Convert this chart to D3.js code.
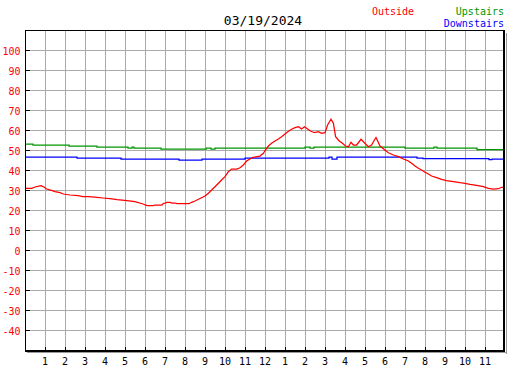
<!DOCTYPE html>
<html>
<head>
<meta charset="utf-8">
<script src="https://cdn.jsdelivr.net/npm/d3@7"></script>
<style>
    body { margin: 0; background: #fff; }
    svg { display: block; font-family: "DejaVu Sans Mono", monospace; }
</style>
</head>
<body>
<svg id="chart" width="527" height="370"></svg>
<script>
const chartDate = '03/19/2024';

const hourLabels = [1, 2, 3, 4, 5, 6, 7, 8, 9, 10, 11, 12, 1, 2, 3, 4, 5, 6, 7, 8, 9, 10, 11];
const tempTicks = [100, 90, 80, 70, 60, 50, 40, 30, 20, 10, 0, -10, -20, -30, -40];

const outsideHours = [0, 0.33, 0.5, 0.8, 0.95, 1.08, 1.33, 1.5, 1.75, 1.92, 2.25, 2.65, 2.9, 3.2, 3.6, 3.9,
    4.25, 4.6, 5.1, 5.5, 5.9, 6.1, 6.4, 6.5, 6.85, 6.9, 7.1, 7.25, 7.35, 7.5, 7.6, 8.2, 8.33, 8.5, 8.67,
    8.83, 9.0, 9.17, 9.33, 9.5, 9.67, 9.83, 10.0, 10.17, 10.33, 10.6, 10.75, 10.92, 11.08, 11.25, 11.4,
    11.75, 11.92, 12.0, 12.17, 12.33, 12.5, 12.67, 12.83, 13.0, 13.17, 13.33, 13.5, 13.67, 13.83, 13.97,
    14.08, 14.25, 14.47, 14.67, 14.83, 15.0, 15.13, 15.3, 15.42, 15.53, 15.7, 15.87, 16.03, 16.17, 16.3,
    16.42, 16.58, 16.8, 16.97, 17.17, 17.33, 17.47, 17.55, 17.75, 17.95, 18.17, 18.42, 18.67, 18.92,
    19.17, 19.33, 19.5, 19.67, 19.83, 20.0, 20.17, 20.33, 20.58, 20.83, 21.08, 21.42, 21.75, 22.0, 22.25,
    22.58, 22.92, 23.17, 23.42, 23.67, 23.83, 24.0];
const outsideTemps = [31.1, 31.1, 31.75, 32.4, 31.75, 30.75, 30.1, 29.4, 28.9, 28.25, 27.75, 27.4, 26.9, 26.9, 26.6, 26.25,
    25.9, 25.4, 24.9, 24.4, 23.25, 22.4, 22.4, 22.75, 22.75, 23.4, 24.1, 24.1, 23.75, 23.75, 23.4, 23.4, 24.1, 24.75, 25.6,
    26.4, 27.25, 28.6, 30.25, 31.9, 33.6, 35.25, 36.9, 39.4, 40.75, 40.75, 41.4, 42.75, 44.75, 45.75, 46.6,
    47.2, 48.6, 50.0, 52.25, 53.6, 54.75, 55.75, 56.9, 58.25, 59.6, 60.6, 61.4, 61.9, 60.75, 61.9,
    61.1, 59.9, 58.9, 59.4, 58.6, 58.9, 62.75, 65.6, 63.6, 56.9, 54.9, 53.6, 52.25, 51.9, 54.1,
    52.75, 52.75, 55.6, 53.9, 51.9, 52.75, 55.25, 56.5, 52.25, 50.6, 48.9, 47.75, 46.9, 45.75,
    44.75, 43.6, 42.25, 41.1, 40.25, 39.1, 38.25, 37.25, 36.4, 35.6, 34.9, 34.4, 33.9, 33.6, 33.1,
    32.6, 31.9, 31.1, 30.75, 30.9, 31.6, 31.6];

const upstairsHours = [0, 0.4, 2.2, 3.6, 5.15, 5.35, 5.45, 6.8, 9.06, 9.3, 9.5, 14.0, 14.25, 14.45, 19.0, 20.45, 20.6, 22.6, 24];
const upstairsTemps = [53.2, 52.7, 52.2, 51.7, 51.2, 51.7, 51.2, 50.7, 51.2, 50.7, 51.2, 51.7, 51.2, 51.7, 51.2, 51.7, 51.2, 50.5, 50.5];

const downstairsHours = [0, 2.6, 4.8, 7.7, 8.85, 11.0, 15.2, 15.35, 15.6, 19.6, 19.9, 23.2, 23.35, 24];
const downstairsTemps = [46.7, 46.2, 45.7, 45.2, 45.7, 46.2, 46.7, 45.7, 46.7, 46.2, 45.9, 45.4, 45.7, 45.7];

const svg = d3.select('#chart');
const plotLeft = 25, plotRight = 505, plotTop = 30.5, plotBottom = 350.5;

const x = d3.scaleLinear().domain([0, 24]).range([plotLeft, plotRight]);
const y = d3.scaleLinear().domain([-50, 110]).range([plotBottom, plotTop]);

svg.append('rect')
        .attr('width', 527)
        .attr('height', 370)
        .attr('fill', '#fff');

// grid
const grid = svg.append('g')
        .attr('stroke', '#aaa')
        .attr('stroke-width', 1)
        .attr('shape-rendering', 'crispEdges');

grid.selectAll('line.v')
        .data(d3.range(1, 24))
        .join('line')
        .attr('class', 'v')
        .attr('x1', d => x(d) + 0.5)
        .attr('x2', d => x(d) + 0.5)
        .attr('y1', plotTop)
        .attr('y2', plotBottom);

grid.selectAll('line.h')
        .data(tempTicks)
        .join('line')
        .attr('class', 'h')
        .attr('x1', plotLeft)
        .attr('x2', plotRight)
        .attr('y1', d => y(d))
        .attr('y2', d => y(d));

// series
const line = (hours, temps, curve) => d3.line()
        .x(i => x(hours[i]))
        .y(i => y(temps[i]))
        .curve(curve)(d3.range(hours.length));

const series = [
    {hours: upstairsHours, temps: upstairsTemps, color: '#009600', curve: d3.curveStepAfter},
    {hours: downstairsHours, temps: downstairsTemps, color: '#0000ff', curve: d3.curveStepAfter},
    {hours: outsideHours, temps: outsideTemps, color: '#ff0000', curve: d3.curveLinear}
];

series.forEach(s => {
    svg.append('path')
            .attr('d', line(s.hours, s.temps, s.curve))
            .attr('fill', 'none')
            .attr('stroke', s.color)
            .attr('stroke-width', 1.25);
});

// frame with shadow
const frame = svg.append('g').attr('shape-rendering', 'crispEdges');
frame.append('line').attr('x1', plotRight + 1.5).attr('x2', plotRight + 1.5).attr('y1', plotTop + 2).attr('y2', plotBottom + 3)
        .attr('stroke', '#999').attr('stroke-width', 1.5);
frame.append('line').attr('x1', plotLeft + 2).attr('x2', plotRight + 2).attr('y1', plotBottom + 2).attr('y2', plotBottom + 2)
        .attr('stroke', '#999').attr('stroke-width', 1.5);
frame.append('line').attr('x1', plotLeft + 0.5).attr('x2', plotLeft + 0.5).attr('y1', plotTop - 0.5).attr('y2', plotBottom + 1)
        .attr('stroke', '#000');
frame.append('line').attr('x1', plotLeft).attr('x2', plotRight).attr('y1', plotTop).attr('y2', plotTop)
        .attr('stroke', '#000');
frame.append('line').attr('x1', plotRight - 1).attr('x2', plotRight - 1).attr('y1', plotTop - 0.5).attr('y2', plotBottom + 1.5)
        .attr('stroke', '#000').attr('stroke-width', 2);
frame.append('line').attr('x1', plotLeft).attr('x2', plotRight).attr('y1', plotBottom + 0.5).attr('y2', plotBottom + 0.5)
        .attr('stroke', '#000').attr('stroke-width', 2);

// ticks
frame.selectAll('line.ytick')
        .data(tempTicks)
        .join('line')
        .attr('class', 'ytick')
        .attr('x1', plotLeft)
        .attr('x2', plotLeft + 5)
        .attr('y1', d => y(d))
        .attr('y2', d => y(d))
        .attr('stroke', '#000');

frame.selectAll('line.xtick')
        .data(d3.range(1, 24))
        .join('line')
        .attr('class', 'xtick')
        .attr('x1', d => x(d) + 0.5)
        .attr('x2', d => x(d) + 0.5)
        .attr('y1', plotBottom - 4)
        .attr('y2', plotBottom)
        .attr('stroke', '#000');

// labels
svg.append('g')
        .attr('font-size', 10)
        .attr('fill', '#ff0000')
        .attr('text-anchor', 'end')
        .selectAll('text')
        .data(tempTicks)
        .join('text')
        .attr('x', plotLeft - 4.5)
        .attr('y', d => y(d) + 4.5)
        .text(d => d);

svg.append('g')
        .attr('font-size', 10)
        .attr('fill', '#000')
        .attr('text-anchor', 'middle')
        .selectAll('text')
        .data(hourLabels)
        .join('text')
        .attr('x', (d, i) => x(i + 1))
        .attr('y', 365)
        .text(d => d);

svg.append('text')
        .attr('x', 263)
        .attr('y', 25)
        .attr('font-size', 13)
        .attr('text-anchor', 'middle')
        .attr('fill', '#000')
        .text(chartDate);

svg.append('text')
        .attr('x', 372)
        .attr('y', 15)
        .attr('font-size', 10)
        .attr('fill', '#ff0000')
        .text('Outside');

svg.append('text')
        .attr('x', 504)
        .attr('y', 15)
        .attr('font-size', 10)
        .attr('text-anchor', 'end')
        .attr('fill', '#009600')
        .text('Upstairs');

svg.append('text')
        .attr('x', 504)
        .attr('y', 26.5)
        .attr('font-size', 10)
        .attr('text-anchor', 'end')
        .attr('fill', '#0000ff')
        .text('Downstairs');
</script>
</body>
</html>
